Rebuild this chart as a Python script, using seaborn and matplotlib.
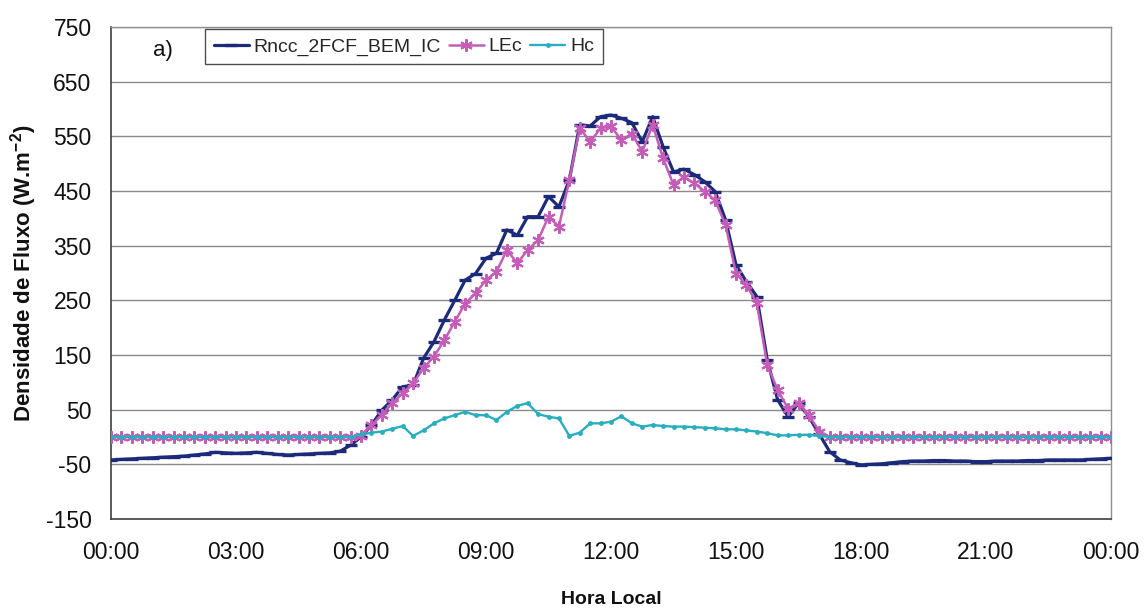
import numpy as np
import pandas as pd
import matplotlib
matplotlib.use("Agg")
import matplotlib.pyplot as plt
import seaborn as sns

# ---------------- data (15-min steps, 00:00 .. 24:00) ----------------
hours = [i * 0.25 for i in range(97)]

rncc = [-42, -41, -40, -39, -38, -37, -36, -35, -33, -31, -28, -29,
        -30, -29, -28, -30, -32, -33, -32, -31, -30, -29, -26, -15,
        0, 22, 49, 68, 92, 95, 144, 174, 214, 250, 287, 299,
        327, 336, 379, 369, 403, 403, 440, 421, 470, 571, 569, 586,
        589, 583, 575, 540, 586, 531, 485, 490, 480, 467, 449, 397,
        315, 284, 257, 141, 68, 37, 62, 37, 5, -27, -42, -47,
        -51, -50, -49, -47, -45, -44, -44, -43, -43, -44, -44, -45,
        -45, -44, -44, -44, -43, -43, -42, -42, -42, -42, -41, -40,
        -39]

lec = [0] * 24 + [
        2, 22, 40, 62, 80, 98, 126, 147, 177, 211, 244, 263,
        287, 302, 342, 318, 342, 360, 403, 385, 470, 565, 540, 565,
        568, 543, 555, 522, 571, 510, 461, 476, 464, 449, 433, 388,
        299, 278, 245, 132, 86, 52, 62, 40, 10] + [0] * 28

hc = [0] * 24 + [
        5, 8, 10, 15, 20, 2, 12, 25, 34, 40, 46, 40,
        40, 31, 46, 57, 62, 42, 37, 34, 2, 8, 25, 25,
        28, 38, 25, 19, 22, 20, 19, 19, 18, 17, 16, 14,
        14, 12, 10, 7, 3, 3, 4, 4, 2] + [0] * 28

series_names = ["Rncc_2FCF_BEM_IC", "LEc", "Hc"]
x_tick_hours = [0, 3, 6, 9, 12, 15, 18, 21, 24]
x_tick_labels = ["00:00", "03:00", "06:00", "09:00", "12:00",
                 "15:00", "18:00", "21:00", "00:00"]
y_ticks = [-150, -50, 50, 150, 250, 350, 450, 550, 650, 750]

assert len(hours) == len(rncc) == len(lec) == len(hc) == 97

# ---------------- style ----------------
sns.set_theme(style="white")
plt.rcParams["font.family"] = ["Liberation Sans", "DejaVu Sans"]
plt.rcParams["axes.unicode_minus"] = False
plt.rcParams["mathtext.fontset"] = "custom"
plt.rcParams["mathtext.rm"] = "Liberation Sans"
plt.rcParams["mathtext.bf"] = "Liberation Sans:bold"

fig = plt.figure(figsize=(11.47, 6.11), dpi=100)
ax = fig.add_axes([111 / 1147, 1 - 519 / 611, 1000 / 1147, 492 / 611])

df = pd.DataFrame({"hora": hours, series_names[0]: rncc,
                   series_names[1]: lec, series_names[2]: hc})

colors = {series_names[0]: "#1c2a7a",
          series_names[1]: "#c45cb8",
          series_names[2]: "#27aebf"}
styles = {
    series_names[0]: dict(marker="_", markersize=8, markeredgewidth=2.4,
                          linewidth=2.3),
    series_names[1]: dict(marker=(6, 2, 0), markersize=9,
                          markeredgewidth=1.5, linewidth=1.8),
    series_names[2]: dict(marker="o", markersize=3.5, markeredgewidth=0,
                          linewidth=1.7),
}
for i, name in enumerate(series_names):
    c = colors[name]
    sns.lineplot(data=df, x="hora", y=name, ax=ax, label=name,
                 color=c, markeredgecolor=c, markerfacecolor=c,
                 zorder=3 + i, **styles[name])

ax.set_xlim(0, 24)
ax.set_ylim(-150, 750)
ax.set_xticks(x_tick_hours)
ax.set_xticklabels(x_tick_labels)
ax.set_xticks(range(0, 25), minor=True)
ax.set_yticks(y_ticks)
ax.tick_params(axis="x", which="both", direction="in", length=5, width=1,
               color="#404040", pad=16, labelsize=16.5)
ax.tick_params(axis="y", which="both", length=0, pad=14, labelsize=16.5)
for lab in ax.get_xticklabels() + ax.get_yticklabels():
    lab.set_color("#111111")

ax.yaxis.grid(True, color="#8a8a8a", linewidth=1.0)
ax.xaxis.grid(False)
ax.set_axisbelow(True)
for side in ["left", "bottom"]:
    ax.spines[side].set_color("#404040")
    ax.spines[side].set_linewidth(1.2)
for side in ["top", "right"]:
    ax.spines[side].set_color("#909090")
    ax.spines[side].set_linewidth(1.0)

ax.set_xlabel("Hora Local", fontsize=14, fontweight="bold", labelpad=19,
              color="#111111")
ax.set_ylabel(r"Densidade de Fluxo (W.m$^{\mathbf{-2}}$)", fontsize=16,
              fontweight="bold", labelpad=5, color="#111111")

ax.text(0.052, 0.952, "a)", transform=ax.transAxes, fontsize=16,
        ha="center", va="center", color="#111111")

leg = ax.legend(loc="upper left", bbox_to_anchor=(0.094, 0.996), ncol=3,
                frameon=True, fancybox=False, fontsize=14, handlelength=1.8,
                handletextpad=0.25, columnspacing=0.4, borderpad=0.45,
                borderaxespad=0)
leg.get_frame().set_edgecolor("#222222")
leg.get_frame().set_linewidth(1.0)

fig.savefig("out.png", dpi=100, facecolor="white")
